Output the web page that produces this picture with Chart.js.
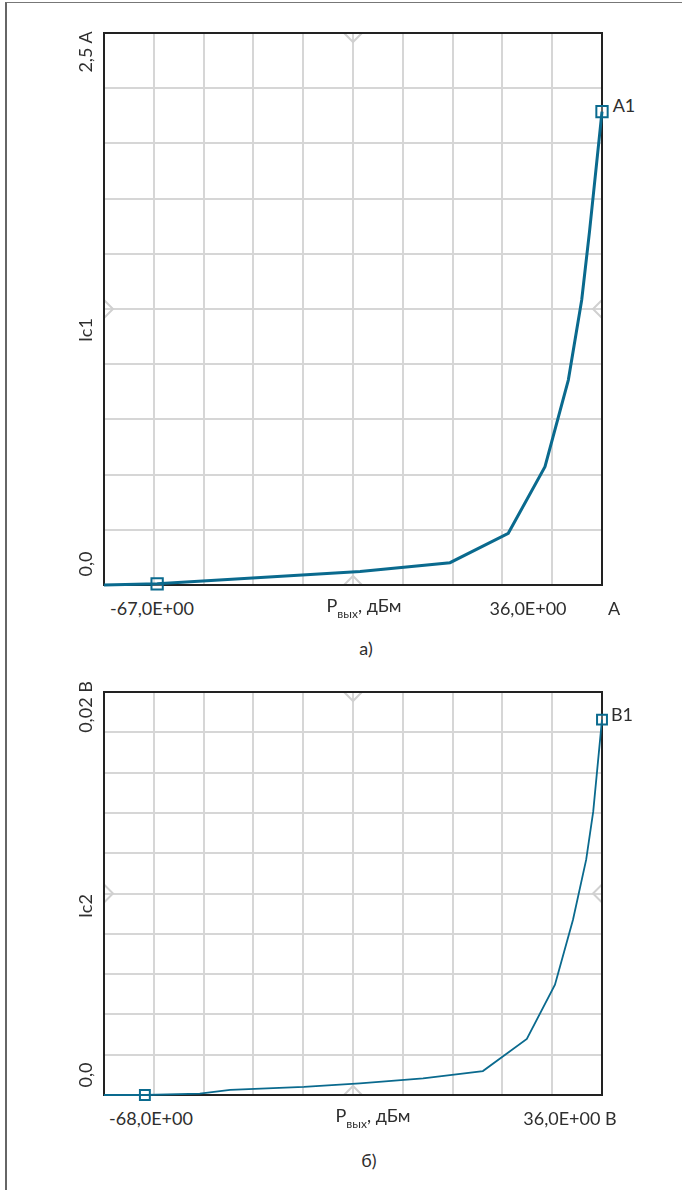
<!DOCTYPE html>
<html>
<head>
<meta charset="utf-8">
<script src="https://cdn.jsdelivr.net/npm/chart.js@4.4.0/dist/chart.umd.min.js"></script>
<style>
  body { margin: 0; background: #fff; }
  #page { position: relative; width: 682px; height: 1190px; overflow: hidden; font-family: "Lato", "Open Sans", sans-serif; font-weight: 400; color: #2e2e2e; }
  #frame { position: absolute; left: 5px; top: 2px; width: 677px; height: 1190px; border-left: 2px solid #666; border-top: 1px solid #777; }
  .box { position: absolute; }
  .t { position: absolute; font-size: 18px; white-space: nowrap; line-height: 1; transform: translate(-50%, -50%); }
  .r { transform: translate(-50%, -50%) rotate(-90deg); }
  .t sub { font-size: 12px; vertical-align: -6px; }
</style>
</head>
<body>
<div id="page">
  <div id="frame"></div>

  <div class="box" style="left:94px; top:23px;"><canvas id="chartA" width="518" height="572"></canvas></div>
  <div class="box" style="left:94px; top:682px;"><canvas id="chartB" width="518" height="423"></canvas></div>

  <!-- top chart texts -->
  <div class="t r" style="left:85px; top:52px;">2,5 A</div>
  <div class="t r" style="left:85px; top:330px;">Ic1</div>
  <div class="t r" style="left:85px; top:564px;">0,0</div>
  <div class="t" style="left:152px; top:608px;">-67,0E+00</div>
  <div class="t" style="left:364px; top:608px;">P<sub>вых</sub>, дБм</div>
  <div class="t" style="left:528px; top:608px;">36,0E+00</div>
  <div class="t" style="left:614px; top:608px;">A</div>
  <div class="t" style="left:366px; top:648px;">а)</div>
  <div class="t" style="left:624px; top:105px;">A1</div>

  <!-- bottom chart texts -->
  <div class="t r" style="left:85px; top:707px;">0,02 B</div>
  <div class="t r" style="left:85px; top:906px;">Ic2</div>
  <div class="t r" style="left:85px; top:1075px;">0,0</div>
  <div class="t" style="left:151px; top:1118px;">-68,0E+00</div>
  <div class="t" style="left:373px; top:1118px;">P<sub>вых</sub>, дБм</div>
  <div class="t" style="left:570px; top:1118px;">36,0E+00 B</div>
  <div class="t" style="left:369px; top:1160px;">б)</div>
  <div class="t" style="left:622px; top:714px;">B1</div>
</div>

<script>
// data
var poutA = [-79.3, -67.0, -20.0, 0.8, 14.3, 22.8, 28.2, 31.3, 33.1, 36.0];
var ic1 = [0, 0.006, 0.061, 0.101, 0.234, 0.536, 0.928, 1.291, 1.599, 2.144];
var markersA = [[-67.0, 0.005], [36.0, 2.144]];

var poutB = [-77.3, -67.8, -55.5, -48.6, -31.8, -19.1, -4.7, 8.9, 18.9, 25.3, 29.4, 32.4, 34.0, 36.0];
var ic2 = [0, 0, 0.00007, 0.00025, 0.0004, 0.00058, 0.00083, 0.00119, 0.00278, 0.00547, 0.0087, 0.01168, 0.01406, 0.01863];
var markersB = [[-68.0, 0], [36.0, 0.01863]];

var lineColor = '#0a6a8e';

function pts(xs, ys) {
	return xs.map(function (x, i) { return { x: x, y: ys[i] }; });
}

// box around plot area and small grey arrows at the middle of each side
var framePlugin = {
	id: 'frame',
	beforeDatasetsDraw: function (chart) {
		var a = chart.chartArea;
		var ctx = chart.ctx;
		var cx = (a.left + a.right) / 2, cy = (a.top + a.bottom) / 2, s = 9;
		ctx.save();
		ctx.strokeStyle = '#d0d0d0';
		ctx.lineWidth = 2;
		ctx.beginPath();
		ctx.moveTo(cx - s, a.top); ctx.lineTo(cx, a.top + s); ctx.lineTo(cx + s, a.top);
		ctx.moveTo(cx - s, a.bottom); ctx.lineTo(cx, a.bottom - s); ctx.lineTo(cx + s, a.bottom);
		ctx.moveTo(a.left, cy - s); ctx.lineTo(a.left + s, cy); ctx.lineTo(a.left, cy + s);
		ctx.moveTo(a.right, cy - s); ctx.lineTo(a.right - s, cy); ctx.lineTo(a.right, cy + s);
		ctx.stroke();
		ctx.strokeStyle = '#222';
		ctx.lineWidth = 2;
		ctx.strokeRect(a.left, a.top, a.right - a.left, a.bottom - a.top);
		ctx.restore();
	}
};

function makeChart(id, xs, ys, marks, xmin, xmax, ymax, ystep, lw, mr) {
	var ctx = document.getElementById(id);
	return new Chart(ctx, {
		type: 'line',
		data: {
			datasets: [{
				data: pts(xs, ys),
				borderColor: lineColor,
				borderWidth: lw,
				pointRadius: 0,
				tension: 0,
				clip: 4
			}, {
				data: marks.map(function (m) { return { x: m[0], y: m[1] }; }),
				showLine: false,
				pointStyle: 'rect',
				pointRadius: mr,
				pointBorderWidth: 2,
				pointBorderColor: lineColor,
				pointBackgroundColor: 'rgba(255,255,255,0.3)',
				clip: false
			}]
		},
		plugins: [framePlugin],
		options: {
			responsive: false,
			animation: false,
			layout: { padding: 10 },
			plugins: { legend: { display: false }, tooltip: { enabled: false } },
			scales: {
				x: {
					type: 'linear',
					min: xmin,
					max: xmax,
					afterBuildTicks: function (scale) {
						var t = [];
						for (var i = 0; i <= 10; i++) t.push({ value: xmin + i * (xmax - xmin) / 10 });
						scale.ticks = t;
					},
					ticks: { display: false },
					grid: { color: '#d6d6d6', lineWidth: 2, drawTicks: false },
					border: { display: false }
				},
				y: {
					min: 0,
					max: ymax,
					ticks: { display: false, stepSize: ystep },
					grid: { color: '#d6d6d6', lineWidth: 2, drawTicks: false },
					border: { display: false }
				}
			}
		}
	});
}

makeChart('chartA', poutA, ic1, markersA, -79.3, 36.0, 2.5, 0.25, 3, 8);
makeChart('chartB', poutB, ic2, markersB, -77.3, 36.0, 0.02, 0.002, 1.8, 7);
</script>
</body>
</html>
